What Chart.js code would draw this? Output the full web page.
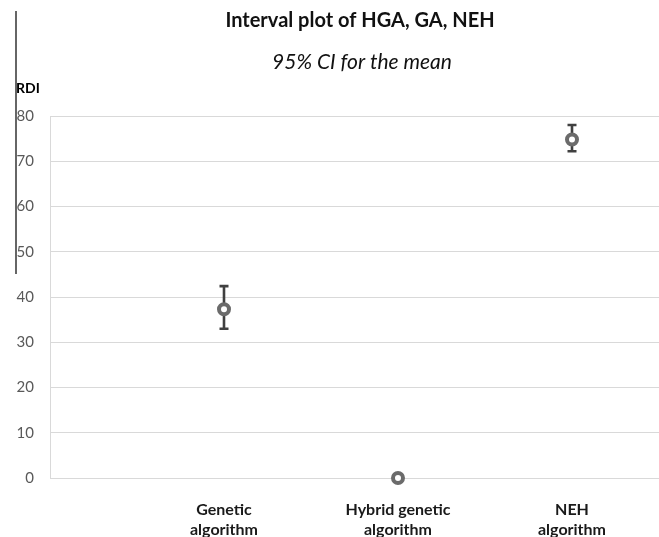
<!DOCTYPE html>
<html>
<head>
<meta charset="utf-8">
<script src="https://cdn.jsdelivr.net/npm/chart.js@4.4.1/dist/chart.umd.min.js"></script>
<style>
  html, body { margin: 0; padding: 0; background: #ffffff; }
  #wrap { width: 659px; height: 537px; }
</style>
</head>
<body>
<div id="wrap"><canvas id="c" width="659" height="537"></canvas></div>
<script>
const categories = ['Genetic algorithm', 'Hybrid genetic algorithm', 'NEH algorithm'];
const xTickLabels = [['Genetic', 'algorithm'], ['Hybrid genetic', 'algorithm'], ['NEH', 'algorithm']];
const meanRDI = [37.3, 0, 74.8];
const upperCI = [42.4, 0, 78.0];
const lowerCI = [33.0, 0, 72.2];
const yTicks = [0, 10, 20, 30, 40, 50, 60, 70, 80];
const titleText = 'Interval plot of HGA, GA, NEH';
const subtitleText = '95% CI for the mean';
const yAxisTitle = 'RDI';

const FONT = 'Lato, "Open Sans", sans-serif';

const errorBars = {
  id: 'errorBars',
  beforeDatasetsDraw(chart) {
    const ctx = chart.ctx, xs = chart.scales.x, ys = chart.scales.y;
    ctx.save();
    ctx.strokeStyle = '#404040';
    ctx.lineWidth = 2.6;
    categories.forEach((c, i) => {
      if (upperCI[i] === lowerCI[i]) return;
      const x = xs.getPixelForValue(i + 1);
      const yt = ys.getPixelForValue(upperCI[i]);
      const yb = ys.getPixelForValue(lowerCI[i]);
      ctx.beginPath();
      ctx.moveTo(x, yt); ctx.lineTo(x, yb);
      ctx.moveTo(x - 4.5, yt); ctx.lineTo(x + 4.5, yt);
      ctx.moveTo(x - 4.5, yb); ctx.lineTo(x + 4.5, yb);
      ctx.stroke();
    });
    ctx.restore();
  }
};

const extras = {
  id: 'extras',
  afterDraw(chart) {
    const ctx = chart.ctx;
    ctx.save();
    ctx.textBaseline = 'middle';
    ctx.textAlign = 'center';
    ctx.fillStyle = '#111111';
    ctx.font = 'bold 20px ' + FONT;
    ctx.fillText(titleText, 360, 21);
    ctx.font = 'italic 21px ' + FONT;
    ctx.fillText(subtitleText, 362, 62);
    ctx.fillStyle = '#000000';
    ctx.font = 'bold 14px ' + FONT;
    ctx.textAlign = 'left';
    ctx.fillText(yAxisTitle, 16, 88);
    ctx.strokeStyle = '#333333';
    ctx.lineWidth = 1.5;
    ctx.beginPath();
    ctx.moveTo(16, 11); ctx.lineTo(16, 274);
    ctx.stroke();
    ctx.restore();
  }
};

new Chart(document.getElementById('c'), {
  type: 'scatter',
  data: {
    datasets: [{
      label: 'Mean RDI',
      data: categories.map((c, i) => ({ x: i + 1, y: meanRDI[i] })),
      pointStyle: 'circle',
      pointRadius: 5,
      pointBorderWidth: 4,
      pointBorderColor: '#6b6b6b',
      pointBackgroundColor: '#ffffff',
      clip: false
    }]
  },
  options: {
    responsive: false,
    animation: false,
    devicePixelRatio: 1,
    layout: { autoPadding: false, padding: { left: 0, right: 0, top: 116, bottom: 0 } },
    plugins: {
      legend: { display: false },
      tooltip: { enabled: false },
      title: { display: false },
      subtitle: { display: false }
    },
    scales: {
      x: {
        type: 'linear',
        min: 0,
        max: 3.5,
        afterBuildTicks(scale) { scale.ticks = [1, 2, 3].map(v => ({ value: v })); },
        afterFit(scale) { scale.height = 59; },
        grid: { display: false, drawTicks: false },
        border: { display: false },
        ticks: {
          autoSkip: false,
          maxRotation: 0,
          padding: 21,
          color: '#1a1a1a',
          font: { family: FONT, size: 16, weight: 'bold', lineHeight: 1.3 },
          callback: (v) => xTickLabels[v - 1]
        }
      },
      y: {
        min: 0,
        max: 80,
        afterBuildTicks(scale) { scale.ticks = yTicks.map(v => ({ value: v })); },
        afterFit(scale) { scale.width = 50; },
        grid: { color: '#d9d9d9', lineWidth: 1, drawTicks: false },
        border: { display: true, color: '#d9d9d9', width: 1 },
        ticks: {
          padding: 16,
          color: '#595959',
          font: { family: FONT, size: 15 }
        }
      }
    }
  },
  plugins: [errorBars, extras]
});
</script>
</body>
</html>
